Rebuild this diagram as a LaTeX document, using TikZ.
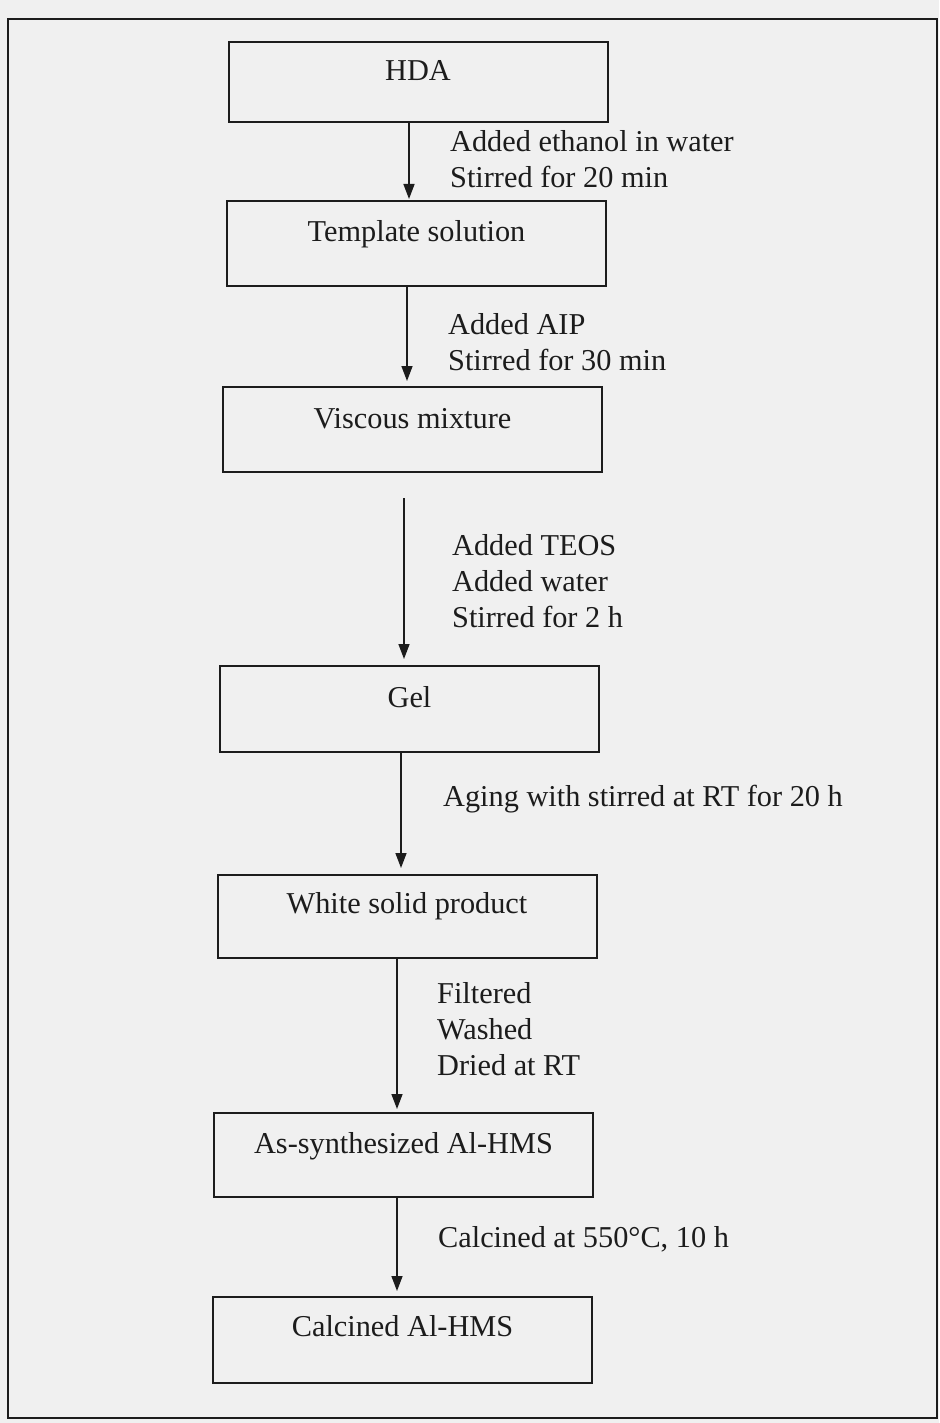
\documentclass[tikz,border=0pt]{standalone}
\usepackage{fontspec}
\setmainfont{Liberation Serif}
\usetikzlibrary{arrows.meta}
\definecolor{paper}{RGB}{240,240,240}
\definecolor{ink}{RGB}{28,28,28}
\begin{document}
\begin{tikzpicture}[x=1pt,y=-1pt,
  stepbox/.style={draw=ink, line width=2pt, minimum width=379pt, inner sep=0pt},
  boxtext/.style={anchor=base, inner sep=0pt, text=ink, font=\fontsize{30.3}{36}\selectfont},
  note/.style={anchor=base west, align=left, inner sep=0pt, text=ink, font=\fontsize{30.3}{36}\selectfont},
  flow/.style={draw=ink, line width=1.5pt, -{Triangle[width=11pt,length=15pt]}}]
\fill[paper] (0,0) rectangle (939,1423);
\useasboundingbox (0,0) rectangle (939,1423);
\draw[ink, line width=2.5pt] (8,19) rectangle (937,1418);

% boxes
\node[stepbox, minimum height=80pt] (b1) at (418,82) {};
\node[stepbox, minimum height=85pt] (b2) at (416.5,243.5) {};
\node[stepbox, minimum height=85pt] (b3) at (412.5,429.5) {};
\node[stepbox, minimum height=86pt] (b4) at (409.5,709) {};
\node[stepbox, minimum height=83pt] (b5) at (407,916.5) {};
\node[stepbox, minimum height=84pt] (b6) at (403.5,1155) {};
\node[stepbox, minimum height=86pt] (b7) at (402.5,1340) {};

% box texts
\node[boxtext] (t1) at (418,81) {HDA};
\node[boxtext] (t2) at (416.5,242) {Template solution};
\node[boxtext] (t3) at (412.5,428) {Viscous mixture};
\node[boxtext] (t4) at (409.5,707) {Gel};
\node[boxtext] (t5) at (407,913) {White solid product};
\node[boxtext] (t6) at (403.5,1153) {As-synthesized Al-HMS};
\node[boxtext] (t7) at (402.5,1336) {Calcined Al-HMS};

% arrows
\draw[flow, shorten >=1pt] ([xshift=-9pt]b1.south) -- ([xshift=-9pt]b1.south |- b2.north);
\draw[flow, shorten >=5pt] ([xshift=-9.5pt]b2.south) -- ([xshift=-9.5pt]b2.south |- b3.north);
\draw[flow, shorten <=25pt, shorten >=6pt] ([xshift=-8.5pt]b3.south) -- ([xshift=-8.5pt]b3.south |- b4.north);
\draw[flow, shorten >=6pt] ([xshift=-8.5pt]b4.south) -- ([xshift=-8.5pt]b4.south |- b5.north);
\draw[flow, shorten >=3pt] ([xshift=-10pt]b5.south) -- ([xshift=-10pt]b5.south |- b6.north);
\draw[flow, shorten >=5pt] ([xshift=-6.5pt]b6.south) -- ([xshift=-6.5pt]b6.south |- b7.north);

% step labels (anchored at the baseline of the last line)
\node[note] (n1) at (450,188) {Added ethanol in water\\Stirred for 20 min};
\node[note] (n2) at (448,370) {Added AIP\\Stirred for 30 min};
\node[note] (n3) at (452,627) {Added TEOS\\Added water\\Stirred for 2 h};
\node[note] (n4) at (443,806) {Aging with stirred at RT for 20 h};
\node[note] (n5) at (437,1075) {Filtered\\Washed\\Dried at RT};
\node[note] (n6) at (438,1247) {Calcined at 550°C, 10 h};
\end{tikzpicture}
\end{document}
